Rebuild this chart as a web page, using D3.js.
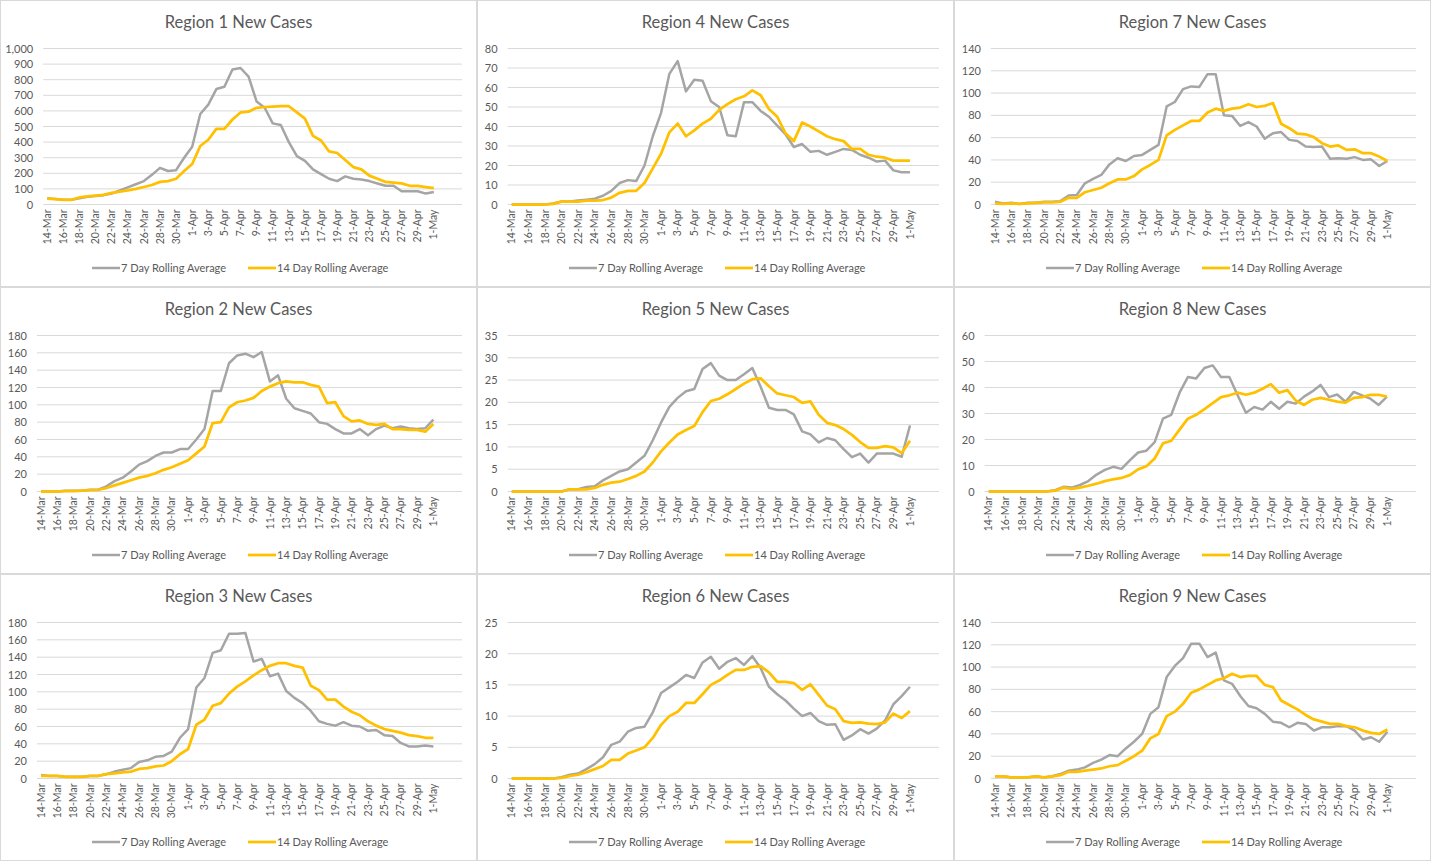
<!DOCTYPE html>
<html>
<head>
<meta charset="utf-8">
<script src="https://cdnjs.cloudflare.com/ajax/libs/d3/7.8.5/d3.min.js"></script>
<style>
  body { margin: 0; background: #fff; font-family: Lato, "Open Sans", sans-serif; }
  svg text { fill: #595959; }
</style>
</head>
<body>
<svg width="1443" height="862"></svg>
<script>
// Dates 14-Mar .. 4-May (data runs to 1-May, the axis leaves room for 3 more days)
const dates = [];
for (let d = 14; d <= 31; d++) dates.push(d + "-Mar");
for (let d = 1; d <= 30; d++) dates.push(d + "-Apr");
for (let d = 1; d <= 4; d++) dates.push(d + "-May");
const labelDates = dates.slice(0, 49).filter((d, i) => i % 2 === 0);

const seriesNames = ["7 Day Rolling Average", "14 Day Rolling Average"];

const r1_7 = [40,35,30,30,40,50,55,60,70,90,110,130,150,190,235,215,220,300,370,580,640,740,755,865,875,820,660,620,520,510,400,310,280,225,195,165,150,180,165,160,150,135,120,120,85,85,85,70,80];
const r1_14 = [38,35,30,30,45,52,57,62,75,82,90,100,112,125,145,150,165,215,260,375,415,485,485,545,590,595,620,625,627,630,630,590,550,440,410,340,330,285,240,225,185,165,145,140,135,120,120,112,105];
const r4_7 = [0,0,0,0,0,0.5,1.5,1.5,2,2.5,3,4.5,7,11,12.5,12,20,35,47,67,73.5,58,64,63.5,53,50,35.5,35,52.5,52.5,48,45,40.5,36,29.5,31,27,27.5,25.5,27,28.5,28,25.5,24,22,22.5,17.5,16.5,16.5];
const r4_14 = [0,0,0,0,0,0.3,1.5,1.5,1.5,2,2,2.3,3.5,6,7,7,11,18.5,26,37,41.5,35,38,41.5,44,48.5,51.5,54,55.5,58.5,56,49,45,36.5,32.5,42,40,37.5,35,33.5,32.5,28.5,28.5,25.5,24.5,24,22.5,22.5,22.5];
const r7_7 = [2.5,1,1.5,0.5,1.5,1.5,2.5,2.5,3,8,8.5,19,23,26.5,36,41.5,39,43.5,44.5,49,53.5,88,92,103.5,106,105.5,117,117,80,79.5,70.5,74,70,59,64,65,58,57,52,51.5,52,41,41.5,41,42.5,40,40.5,34.5,39];
const r7_14 = [1,0.5,1,0.5,1,1.5,2,2,2.5,6,6,11,13,15,19,22.5,22.5,25.5,31.5,35.5,40,62,67,71,75,75,82.5,86,84,86,87,90,87.5,88.5,91,72.5,68.5,63.5,63,60.5,55,52,53,49,49.5,46,46,43,39];
const r2_7 = [0,0,0,1,1,1,2,2,6,12,16,23,31,35,41,45,45,49,49,60,72,116,116,148,157,159,155,161,127,134,107,96,93,90,80,78,72,67,67,72,65,72,76,73,75,73,72,73,83];
const r2_14 = [0,0,0,0.5,0.5,1,1.5,2,4,7,10,13,16,18,21,25,28,32,36,44,52,79,80,97,103,105,108,116,121,125,127,126,126,123,121,102,103,87,81,82,78,77,78,72,72,71,71,69,78];
const r5_7 = [0,0,0,0,0,0,0,0.5,0.5,1,1.2,2.5,3.5,4.5,5,6.5,8,11.5,15.5,19,21,22.5,23,27.5,28.8,26,25,25,26.3,27.7,23.5,18.8,18.3,18.3,17.3,13.5,12.8,11,12,11.5,9.5,7.7,8.5,6.5,8.5,8.5,8.5,7.8,14.8];
const r5_14 = [0,0,0,0,0,0,0,0.5,0.5,0.5,0.8,1.5,2,2.2,2.8,3.5,4.5,6.5,9,11,12.8,13.8,14.7,17.8,20.3,20.8,21.8,23,24.2,25.2,25.4,23.6,22,21.6,21.2,19.9,20.2,17.2,15.4,14.9,14,12.7,11.1,9.8,9.8,10.2,9.9,8.6,11.4];
const r8_7 = [0,0,0,0,0,0,0,0,0.5,1.8,1.5,2.5,4,6.5,8.3,9.5,8.7,12,15,15.7,19,28,29.5,38,44,43.5,47.5,48.5,44,44,37,30.3,32.5,31.5,34.5,31.8,34.5,33.8,36.5,38.5,41,36.3,37.3,34.5,38.3,37,35.7,33.3,36.5];
const r8_14 = [0,0,0,0,0,0,0,0,0.3,1.5,1,1.5,2.2,3,4,4.7,5.2,6.3,8.5,9.7,12.7,18.5,19.5,23.8,28,29.5,31.7,34,36.3,37,38,37.2,38,39.5,41.3,38,39,35,33.3,35.3,36,35.3,34.6,34.2,36,36.3,37.2,37.2,36.5];
const r3_7 = [4,3,3,2,2,2,3,3,5,8,10,12,19,21,25,26,31,47,57,105,116,145,148,167,167,168,135,138,118,121,101,93,87,78,66,63,61,65,61,60,55,56,50,49,41,37,37,38,37];
const r3_14 = [3,3,3,2,2,2,3,3,5,6,7,8,11,12,14,15,20,28,34,62,68,84,87,98,106,112,119,125,130,133,133,130,128,107,102,91,91,83,77,73,66,61,57,55,53,50,49,47,47];
const r6_7 = [0,0,0,0,0,0,0.2,0.6,0.8,1.5,2.3,3.4,5.4,5.9,7.5,8.1,8.3,10.6,13.7,14.6,15.5,16.6,16.1,18.6,19.5,17.6,18.7,19.3,18.2,19.6,17.7,14.7,13.5,12.5,11.2,10,10.5,9.2,8.6,8.7,6.2,6.9,7.9,7.2,8,9.3,11.9,13.2,14.7];
const r6_14 = [0,0,0,0,0,0,0.1,0.4,0.6,1,1.5,2,3,3,4,4.5,5,6.5,8.6,10,10.7,12.1,12.1,13.5,15,15.7,16.6,17.4,17.4,17.9,18,17,15.5,15.5,15.3,14.2,15.1,13.4,11.7,11.1,9.2,8.9,9,8.8,8.7,9,10.4,9.7,10.8];
const r9_7 = [2,2,1,1,1,2,1,2,4,7,8,10,14,17,21,20,27,33,40,58,64,91,101,108,121,121,109,113,88,85,74,65,63,58,51,50,46,50,49,43,46,46,47,47,43,35,37,33,42];
const r9_14 = [2,2,1,1,1,2,1,2,3,6,6,7,8,9,11,12,16,20,25,36,40,56,60,67,77,80,84,88,90,94,91,92,92,84,82,70,66,62,57,53,51,49,49,47,46,43,41,40,44];

// panel order: column-major, regions 1-3 left, 4-6 middle, 7-9 right
const regions = [
  { name: "Region 1", s7: r1_7, s14: r1_14, max: 1000, step: 100 },
  { name: "Region 2", s7: r2_7, s14: r2_14, max: 180, step: 20 },
  { name: "Region 3", s7: r3_7, s14: r3_14, max: 180, step: 20 },
  { name: "Region 4", s7: r4_7, s14: r4_14, max: 80, step: 10 },
  { name: "Region 5", s7: r5_7, s14: r5_14, max: 35, step: 5 },
  { name: "Region 6", s7: r6_7, s14: r6_14, max: 25, step: 5 },
  { name: "Region 7", s7: r7_7, s14: r7_14, max: 140, step: 20 },
  { name: "Region 8", s7: r8_7, s14: r8_14, max: 60, step: 10 },
  { name: "Region 9", s7: r9_7, s14: r9_14, max: 140, step: 20 }
];

const colors = ["#a5a5a5", "#ffc000"];
const widths = [2.5, 2.75];
const panelW = 477, panelH = 287;
const svg = d3.select("svg");

regions.forEach((r, i) => {
  const col = Math.floor(i / 3), row = i % 3;
  const g = svg.append("g").attr("transform", `translate(${col * panelW},${row * panelH})`);

  g.append("rect")
    .attr("x", 0.5).attr("y", 0.5)
    .attr("width", panelW - 1).attr("height", panelH - 1)
    .attr("fill", "#fff").attr("stroke", "#d9d9d9");

  g.append("text")
    .attr("x", panelW / 2).attr("y", 28)
    .attr("text-anchor", "middle")
    .style("font-size", "16.5px")
    .text(r.name + " New Cases");

  const digits = String(r.max).length;
  const left = 18 + 6.3 * digits;
  const x = d3.scaleBand().domain(dates).range([left, 462]);
  const y = d3.scaleLinear().domain([0, r.max]).range([204.5, 48.5]);
  const ticks = d3.range(0, r.max + r.step / 2, r.step);

  // gridlines
  g.append("g").selectAll("line").data(ticks).join("line")
    .attr("x1", left).attr("x2", 462)
    .attr("y1", d => y(d)).attr("y2", d => y(d))
    .attr("stroke", "#d9d9d9").attr("stroke-width", 1);

  const yAxis = g.append("g")
    .attr("transform", `translate(${left - 8},0)`)
    .call(d3.axisLeft(y).tickValues(ticks).tickSize(0).tickPadding(2));
  yAxis.select(".domain").remove();
  yAxis.selectAll("text").style("font-size", "11px").style("fill", "#595959")
    .style("font-family", "Lato, sans-serif");

  const xAxis = g.append("g")
    .attr("transform", "translate(0,204.5)")
    .call(d3.axisBottom(x).tickValues(labelDates).tickSize(0).tickPadding(5));
  xAxis.select(".domain").remove();
  xAxis.selectAll("text")
    .attr("transform", "rotate(-90)")
    .attr("text-anchor", "end")
    .attr("x", -5).attr("y", 0).attr("dy", "0.35em")
    .style("font-size", "10.5px").style("fill", "#595959")
    .style("font-family", "Lato, sans-serif");

  const line = d3.line()
    .x((d, k) => x(dates[k]) + x.bandwidth() / 2)
    .y(d => y(d));

  [r.s7, r.s14].forEach((s, k) => {
    g.append("path")
      .datum(s)
      .attr("d", line)
      .attr("fill", "none")
      .attr("stroke", colors[k])
      .attr("stroke-width", widths[k])
      .attr("stroke-linejoin", "round");
  });

  // legend
  const lg = g.append("g").attr("transform", "translate(0,268)");
  const lx = [92, 248];
  seriesNames.forEach((n, k) => {
    lg.append("line")
      .attr("x1", lx[k]).attr("x2", lx[k] + 28)
      .attr("stroke", colors[k]).attr("stroke-width", widths[k]);
    lg.append("text")
      .attr("x", lx[k] + 29).attr("dy", "0.35em")
      .style("font-size", "11px")
      .text(n);
  });
});
</script>
</body>
</html>
